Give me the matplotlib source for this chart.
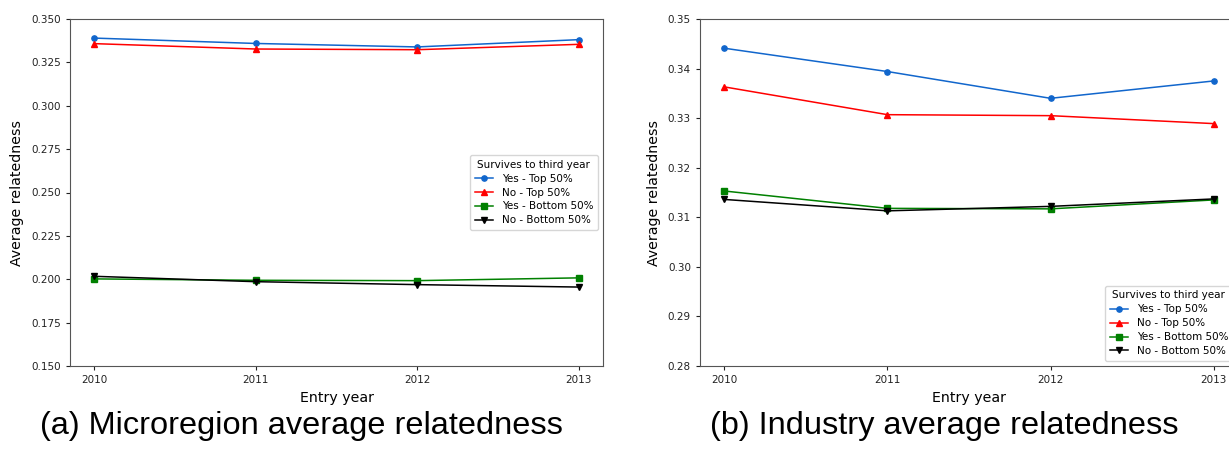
import matplotlib
matplotlib.use("Agg")
import matplotlib.pyplot as plt

years = [2010, 2011, 2012, 2013]
labels = ["Yes - Top 50%", "No - Top 50%", "Yes - Bottom 50%", "No - Bottom 50%"]
colors = ["#1166cc", "red", "green", "black"]
markers = ["o", "^", "s", "v"]

# (a) Microregion average relatedness
micro_yes_top = [0.3390, 0.3359, 0.3339, 0.3381]
micro_no_top = [0.3358, 0.3327, 0.3323, 0.3354]
micro_yes_bottom = [0.2002, 0.1994, 0.1992, 0.2008]
micro_no_bottom = [0.2017, 0.1986, 0.1969, 0.1955]

# (b) Industry average relatedness
ind_yes_top = [0.3441, 0.3394, 0.3340, 0.3375]
ind_no_top = [0.3363, 0.3307, 0.3305, 0.3289]
ind_yes_bottom = [0.3153, 0.3118, 0.3117, 0.3135]
ind_no_bottom = [0.3136, 0.3113, 0.3122, 0.3137]

W, H = 1229, 454
fig = plt.figure(figsize=(W / 100, H / 100), dpi=100)

def px_axes(l, t, r, b):
    return fig.add_axes([l / W, 1 - b / H, (r - l) / W, (b - t) / H])

ax1 = px_axes(70, 19, 603, 366)
ax2 = px_axes(700, 19, 1238, 366)

def draw(ax, series, ylim, yticks, fmt, legend_loc):
    for vals, lab, c, m in zip(series, labels, colors, markers):
        ax.plot(years, vals, color=c, marker=m, markersize=3.8, linewidth=1.1, label=lab)
    ax.set_ylim(*ylim)
    ax.set_yticks(yticks)
    ax.set_yticklabels([fmt.format(v) for v in yticks])
    ax.set_xticks(years)
    ax.set_xticklabels([str(y) for y in years])
    ax.tick_params(labelsize=7.5, colors="#222222", length=3)
    for s in ax.spines.values():
        s.set_color("#555555")
        s.set_linewidth(0.8)
    ax.set_xlabel("Entry year", fontsize=10.2, labelpad=4)
    ax.set_ylabel("Average relatedness", fontsize=10.2, labelpad=5)
    ax.legend(title="Survives to third year", loc=legend_loc, fontsize=7.5,
              title_fontsize=7.5, handlelength=1.8, borderpad=0.45,
              labelspacing=0.38, framealpha=0.8)

draw(ax1, [micro_yes_top, micro_no_top, micro_yes_bottom, micro_no_bottom],
     (0.150, 0.350), [0.150, 0.175, 0.200, 0.225, 0.250, 0.275, 0.300, 0.325, 0.350],
     "{:.3f}", "center right")
draw(ax2, [ind_yes_top, ind_no_top, ind_yes_bottom, ind_no_bottom],
     (0.28, 0.35), [0.28, 0.29, 0.30, 0.31, 0.32, 0.33, 0.34, 0.35],
     "{:.2f}", "lower right")

cap_font = ["Liberation Sans", "DejaVu Sans"]
fig.text(301 / W, 1 - 426 / H, "(a) Microregion average relatedness", ha="center", va="center",
         fontsize=23.4, family=cap_font)
fig.text(944 / W, 1 - 426 / H, "(b) Industry average relatedness", ha="center", va="center",
         fontsize=23.4, family=cap_font)

fig.savefig("out.png", dpi=100)
